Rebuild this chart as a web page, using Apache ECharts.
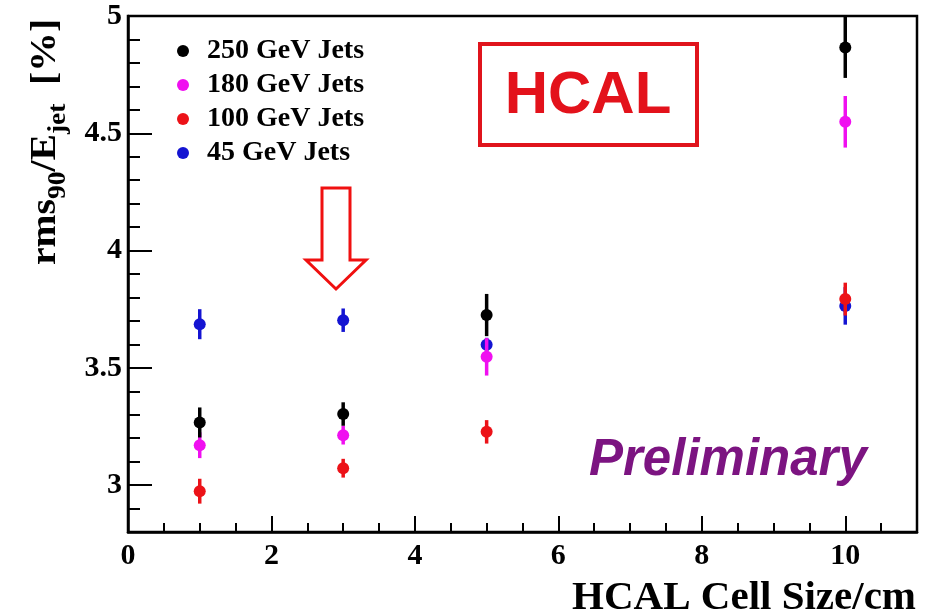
<!DOCTYPE html>
<html>
<head>
<meta charset="utf-8">
<script src="https://cdn.jsdelivr.net/npm/echarts@6/dist/echarts.min.js"></script>
<style>
  html, body { margin: 0; padding: 0; background: #fff; }
  #chart { width: 925px; height: 615px; }
</style>
</head>
<body>
<div id="chart"></div>
<script>
// HCAL cell size scan: jet energy resolution rms90/E_jet (%) per jet energy
const cellSizes = [1, 3, 5, 10];

const rms250 = [3.267, 3.303, 3.725, 4.866];
const err250 = [0.064, 0.050, 0.090, 0.130];

const rms180 = [3.170, 3.213, 3.547, 4.549];
const err180 = [0.055, 0.040, 0.080, 0.110];

const rms100 = [2.974, 3.072, 3.227, 3.793];
const err100 = [0.053, 0.040, 0.050, 0.070];

const rms45 = [3.686, 3.703, 3.598, 3.764];
const err45 = [0.064, 0.050, 0.030, 0.080];

const seriesNames = ['250 GeV Jets', '180 GeV Jets', '100 GeV Jets', '45 GeV Jets'];
const xTicks = [0, 2, 4, 6, 8, 10];
const yTicks = [3, 3.5, 4, 4.5, 5];

const SERIF = "'Liberation Serif', 'Times New Roman', serif";
const SANS = "'Liberation Sans', Arial, sans-serif";

const chart = echarts.init(document.getElementById('chart'), null, { renderer: 'canvas' });

// Point with vertical error bar
function errorBarItem(params, api) {
  const x = api.value(0), y = api.value(1), e = api.value(2);
  const c = api.coord([x, y]);
  const lo = api.coord([x, y - e]);
  const hi = api.coord([x, y + e]);
  const color = api.visual('color');
  return {
    type: 'group',
    children: [
      { type: 'line', shape: { x1: c[0], y1: lo[1], x2: c[0], y2: hi[1] },
        style: { stroke: color, lineWidth: 3.5 } },
      { type: 'circle', shape: { cx: c[0], cy: c[1], r: 6 },
        style: { fill: color } }
    ]
  };
}

function pointSeries(name, values, errors, color, z) {
  return {
    name: name,
    type: 'custom',
    clip: true,
    z: z,
    itemStyle: { color: color },
    renderItem: errorBarItem,
    encode: { x: 0, y: 1 },
    data: cellSizes.map((s, i) => [s, values[i], errors[i]])
  };
}

// Y-axis title with subscripts, laid out piece by piece along a rotated baseline
function yTitleGraphic() {
  const big = 36, small = 25;
  const ctx = document.createElement('canvas').getContext('2d');
  const w = (txt, size) => { ctx.font = 'bold ' + size + 'px ' + SERIF; return ctx.measureText(txt).width; };
  const pieces = [
    { t: 'rms', s: big, dy: 0, gap: 0 },
    { t: '90', s: small, dy: 9, gap: 0 },
    { t: '/E', s: big, dy: 0, gap: 0 },
    { t: 'jet', s: small, dy: 9, gap: 0 },
    { t: '[%]', s: big, dy: 0, gap: 17 }
  ];
  let x = 0;
  const children = pieces.map(p => {
    x += p.gap;
    const el = {
      type: 'text', x: x, y: p.dy + 0.2 * p.s,
      style: { text: p.t, font: 'bold ' + p.s + 'px ' + SERIF, fill: '#000',
               align: 'left', verticalAlign: 'bottom' }
    };
    x += w(p.t, p.s);
    return el;
  });
  return { type: 'group', x: 57, y: 265, rotation: Math.PI / 2, scaleX: 1.1, scaleY: 1, children: children };
}

const option = {
  animation: false,
  backgroundColor: '#fff',
  grid: {
    left: 128, right: 8, top: 16, bottom: 83,
    show: true, borderColor: '#000', borderWidth: 2.5, backgroundColor: 'transparent'
  },
  legend: {
    orient: 'vertical',
    left: 177, top: 37,
    padding: 0,
    itemGap: 6,
    itemWidth: 12, itemHeight: 12,
    icon: 'circle',
    textStyle: { fontFamily: SERIF, fontWeight: 'bold', fontSize: 28, color: '#000',
                 padding: [0, 0, 0, 13] },
    data: seriesNames
  },
  xAxis: [
    {
      type: 'value', min: 0, max: 11, position: 'bottom',
      axisLine: { show: true, onZero: false, lineStyle: { color: '#000', width: 2.5 } },
      axisTick: { show: true, inside: true, length: 16, customValues: xTicks,
                  lineStyle: { color: '#000', width: 2 } },
      axisLabel: { show: true, customValues: xTicks, margin: 9, color: '#000',
                   fontFamily: SERIF, fontWeight: 'bold', fontSize: 30 },
      splitLine: { show: false }
    },
    {
      type: 'value', min: 0, max: 11, interval: 0.5, position: 'bottom',
      axisLine: { show: false },
      axisTick: { show: true, inside: true, length: 9, lineStyle: { color: '#000', width: 2 } },
      axisLabel: { show: false },
      splitLine: { show: false }
    }
  ],
  yAxis: [
    {
      type: 'value', min: 2.8, max: 5, position: 'left',
      axisLine: { show: true, onZero: false, lineStyle: { color: '#000', width: 2.5 } },
      axisTick: { show: true, inside: true, length: 24, customValues: yTicks,
                  lineStyle: { color: '#000', width: 2 } },
      axisLabel: { show: true, customValues: yTicks, margin: 6, color: '#000',
                   fontFamily: SERIF, fontWeight: 'bold', fontSize: 30 },
      splitLine: { show: false }
    },
    {
      type: 'value', min: 2.8, max: 5, interval: 0.1, position: 'left',
      axisLine: { show: false },
      axisTick: { show: true, inside: true, length: 12, lineStyle: { color: '#000', width: 2 } },
      axisLabel: { show: false },
      splitLine: { show: false }
    }
  ],
  series: [
    pointSeries(seriesNames[3], rms45, err45, '#1414d2', 10),
    pointSeries(seriesNames[2], rms100, err100, '#ec1218', 11),
    pointSeries(seriesNames[1], rms180, err180, '#f00ff0', 12),
    pointSeries(seriesNames[0], rms250, err250, '#000000', 13)
  ],
  graphic: [
    yTitleGraphic(),
    {
      type: 'text', right: 9, top: 578,
      style: { text: 'HCAL Cell Size/cm', font: 'bold 41px ' + SERIF, fill: '#000' }
    },
    {
      type: 'rect', shape: { x: 480, y: 44, width: 217, height: 101 },
      style: { fill: 'none', stroke: '#e0141c', lineWidth: 4 }
    },
    {
      type: 'text', x: 588, y: 96,
      style: { text: 'HCAL', font: 'bold 60px ' + SANS, fill: '#e3121b',
               align: 'center', verticalAlign: 'middle' }
    },
    {
      type: 'polygon',
      shape: { points: [[322, 188], [350, 188], [350, 260], [366, 260], [336, 289], [306, 260], [322, 260]] },
      style: { fill: 'none', stroke: '#f01010', lineWidth: 3, lineJoin: 'miter' }
    },
    {
      type: 'text', x: 589, y: 461,
      style: { text: 'Preliminary', font: 'italic bold 51px ' + SANS, fill: '#7c1481',
               align: 'left', verticalAlign: 'middle' }
    }
  ]
};

chart.setOption(option);
</script>
</body>
</html>
